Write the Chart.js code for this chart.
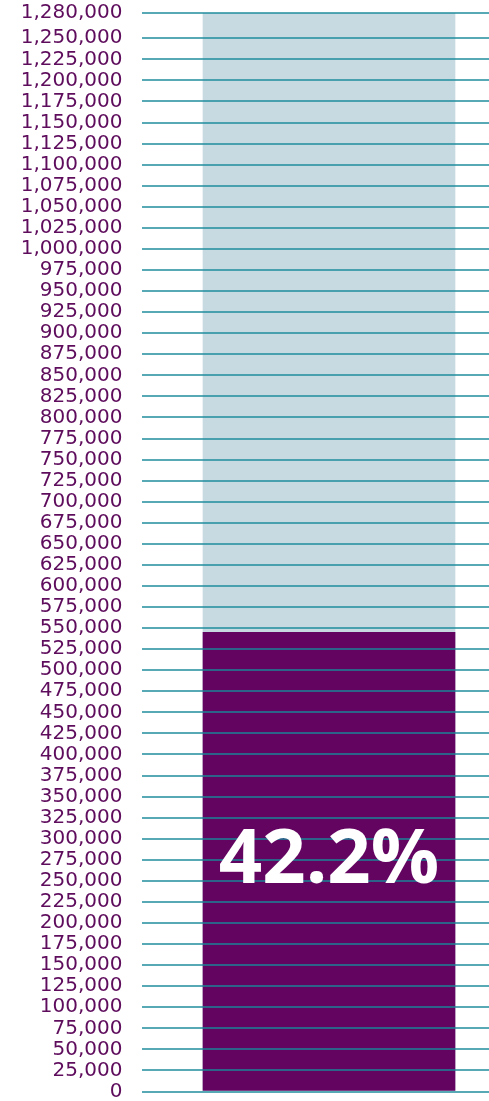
<!DOCTYPE html>
<html>
<head>
<meta charset="utf-8">
<script src="https://cdn.jsdelivr.net/npm/chart.js@4"></script>
<style>
  html, body { margin: 0; padding: 0; background: #ffffff; overflow: hidden; }
  #wrap { position: relative; width: 516px; height: 1101px; }
</style>
</head>
<body>
<div id="wrap"><canvas id="c"></canvas></div>
<script>
// ---- data ----
const categories = ['Total'];
const totalValues = [1280000];
const filledValues = [545000];
const shareLabels = ['42.2%'];
const tickStep = 25000;
const tickValues = [];
for (let v = 0; v <= 1250000; v += tickStep) tickValues.push(v);
tickValues.push(1280000);

const purple = '#630460';
const lightBar = '#c8dae1';
const labelPurple = '#5e0c5c';
const gridColor = 'rgba(22,136,152,0.72)';

const shareLabelPlugin = {
  id: 'shareLabel',
  afterDraw(chart) {
    const meta = chart.getDatasetMeta(0);
    const ctx = chart.ctx;
    ctx.save();
    ctx.fillStyle = '#ffffff';
    ctx.font = 'bold 76px "Open Sans"';
    ctx.textAlign = 'center';
    ctx.textBaseline = 'middle';
    meta.data.forEach((bar, i) => {
      const cy = (bar.y + bar.base) / 2;
      ctx.fillText(shareLabels[i], bar.x, cy);
    });
    ctx.restore();
  }
};

new Chart(document.getElementById('c'), {
  type: 'bar',
  data: {
    labels: categories,
    datasets: [
      { data: filledValues, backgroundColor: purple, grouped: false, barThickness: 252, borderWidth: 0 },
      { data: totalValues, backgroundColor: lightBar, grouped: false, barThickness: 252, borderWidth: 0 }
    ]
  },
  options: {
    responsive: true,
    maintainAspectRatio: false,
    animation: false,
    layout: { padding: { top: 13, left: 0, right: 0, bottom: 9.5 } },
    plugins: { legend: { display: false }, tooltip: { enabled: false } },
    scales: {
      x: { display: false },
      y: {
        min: 0,
        max: 1280000,
        afterBuildTicks: (axis) => { axis.ticks = tickValues.map(v => ({ value: v })); },
        afterFit: (axis) => {
          axis.width = 142;
          axis.paddingTop = 0;
          axis.paddingBottom = 0;
        },
        border: { display: false },
        grid: { color: gridColor, lineWidth: 2, drawTicks: false, z: 1 },
        ticks: {
          autoSkip: false,
          padding: 19.5,
          color: labelPurple,
          font: { family: '"DejaVu Sans"', size: 20 },
          callback: (v) => Number(v).toLocaleString('en-US')
        }
      }
    }
  },
  plugins: [shareLabelPlugin]
});
</script>
</body>
</html>
